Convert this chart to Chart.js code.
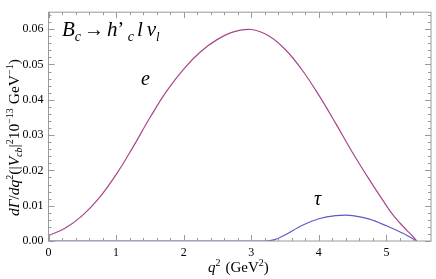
<!DOCTYPE html>
<html>
<head>
<meta charset="utf-8">
<script src="https://cdn.jsdelivr.net/npm/chart.js@4.4.1/dist/chart.umd.min.js"></script>
<style>
  html, body { margin: 0; padding: 0; background: #fff; }
  #wrap { width: 436px; height: 279px; }
</style>
</head>
<body>
<div id="wrap"><canvas id="myChart" width="436" height="279"></canvas></div>
<script>
// q^2 (GeV^2) samples and dGamma/dq^2
let qE   = [0, 0.25, 0.5, 0.75, 1.0, 1.25, 1.5, 1.75, 2.0, 2.25, 2.5, 2.75, 3.0, 3.25, 3.5, 3.75, 4.0, 4.25, 4.5, 4.75, 5.0, 5.1, 5.2, 5.3, 5.4, 5.45];
let eVal = [0.0015, 0.0037, 0.0072, 0.0122, 0.0188, 0.0266, 0.0349, 0.0425, 0.0487, 0.0536, 0.0571, 0.0593, 0.0599, 0.0582, 0.0543, 0.0485, 0.0413, 0.0333, 0.0250, 0.0173, 0.0100, 0.0073, 0.0051, 0.0031, 0.0011, 0.0];
let qT   = [0, 1, 2, 3, 3.2, 3.35, 3.5, 3.75, 4.0, 4.25, 4.4, 4.5, 4.75, 5.0, 5.25, 5.45];
let tVal = [0, 0, 0, 0, 0, 0.0004, 0.0017, 0.0044, 0.0063, 0.0072, 0.0073, 0.0072, 0.0062, 0.0043, 0.0021, 0];
let xTicks = [0, 1, 2, 3, 4, 5];
let yTicks = [0, 0.01, 0.02, 0.03, 0.04, 0.05, 0.06];

const serif = "'Liberation Serif', 'DejaVu Serif', serif";
Chart.defaults.font.family = serif;
const pts = (xs, ys) => xs.map((x, i) => ({x: x, y: ys[i]}));

// Mathematica-style frame with inward ticks on all four sides, plus labels
const framePlugin = {
  id: 'frame',
  afterDraw(chart) {
    const {ctx, chartArea: a, scales: {x, y}} = chart;
    ctx.save();
    ctx.strokeStyle = '#9a9a9a';
    ctx.lineWidth = 1;
    ctx.strokeRect(a.left, a.top, a.right - a.left, a.bottom - a.top);
    ctx.beginPath();
    for (let v = 0; v <= 5.6; v += 0.2) {
      const px = Math.round(x.getPixelForValue(v)) + 0.5;
      const major = Math.abs(v - Math.round(v)) < 1e-6;
      const len = major ? 6 : 3;
      ctx.moveTo(px, a.bottom); ctx.lineTo(px, a.bottom - len);
      ctx.moveTo(px, a.top); ctx.lineTo(px, a.top + len);
    }
    for (let i = 0; i <= 32; i++) {
      const v = i * 0.002;
      const py = Math.round(y.getPixelForValue(v)) + 0.5;
      const len = (i % 5 === 0) ? 6 : 3;
      ctx.moveTo(a.left, py); ctx.lineTo(a.left + len, py);
      ctx.moveTo(a.right, py); ctx.lineTo(a.right - len, py);
    }
    ctx.stroke();

    // text runs: [text, style, size, dy, extra gap]
    function runs(list, x0, y0) {
      let cx = x0;
      list.forEach(r => {
        ctx.font = (r[1] || '') + ' ' + r[2] + 'px ' + serif;
        ctx.fillText(r[0], cx, y0 + (r[3] || 0));
        cx += ctx.measureText(r[0]).width + (r[4] || 0);
      });
      return cx - x0;
    }
    ctx.fillStyle = '#000';
    ctx.textBaseline = 'alphabetic';
    ctx.textAlign = 'left';

    // process label
    runs([['B', 'italic', 21], ['c', 'italic', 14, 5, 3], ['\u2192', '', 20, 0, 3],
          ['h', 'italic', 21], ['\u2019', '', 20], [' c', 'italic', 14, 5, 3],
          ['l', 'italic', 21, 0, 4], ['\u03BD', 'italic', 21], ['l', 'italic', 13, 5]], 62, 36);

    // curve labels
    ctx.font = 'italic 20px ' + serif;
    ctx.fillText('e', 141, 85);
    ctx.fillText('\u03C4', 314, 205);

    // x title
    runs([['q', 'italic', 15], ['2', '', 10, -6, 5], ['(GeV', '', 15], ['2', '', 10, -6], [')', '', 15]], 208, 272);

    // y title (rotated)
    ctx.save();
    ctx.translate(19, 216);
    ctx.rotate(-Math.PI / 2);
    runs([['d\u0393', 'italic', 15.5], ['/', '', 15.5], ['dq', 'italic', 15.5], ['2', '', 10, -6],
          ['(|', '', 15.5], ['V', 'italic', 15.5], ['cb', 'italic', 10, 3], ['|', '', 15.5],
          ['2', '', 10, -6], ['10', '', 15.5], ['\u221213', '', 10, -6, 4], ['GeV', '', 15.5],
          ['\u22121', '', 10, -6], [')', '', 15.5]], 0, 0);
    ctx.restore();
    ctx.restore();
  }
};

let ctx = document.getElementById('myChart');
let myChart = new Chart(ctx, {
  type: 'line',
  data: {
    datasets: [
      {
        label: 'e',
        data: pts(qE, eVal),
        borderColor: '#a8468a',
        borderWidth: 1.2,
        pointRadius: 0,
        tension: 0.4,
        fill: false
      },
      {
        label: '\u03C4',
        data: pts(qT, tVal),
        borderColor: '#5a5ac8',
        borderWidth: 1.2,
        pointRadius: 0,
        cubicInterpolationMode: 'monotone',
        fill: false
      }
    ]
  },
  options: {
    responsive: false,
    animation: false,
    layout: { padding: { top: 3, right: 5, left: 0, bottom: 0 } },
    plugins: { legend: { display: false }, tooltip: { enabled: false } },
    scales: {
      x: {
        type: 'linear',
        min: 0, max: 5.66,
        afterBuildTicks: s => { s.ticks = xTicks.map(v => ({value: v})); },
        afterFit: s => { s.height = 38; },
        grid: { display: false, drawTicks: false },
        border: { display: false },
        ticks: { padding: 5, color: '#000', font: { family: serif, size: 12 }, callback: v => String(v), maxRotation: 0 }
      },
      y: {
        min: 0, max: 0.0648,
        afterBuildTicks: s => { s.ticks = yTicks.map(v => ({value: v})); },
        afterFit: s => { s.width = 48.5; },
        grid: { display: false, drawTicks: false },
        border: { display: false },
        ticks: { padding: 5, color: '#000', font: { family: serif, size: 12 }, callback: v => v.toFixed(2) }
      }
    }
  },
  plugins: [framePlugin]
});
</script>
</body>
</html>
